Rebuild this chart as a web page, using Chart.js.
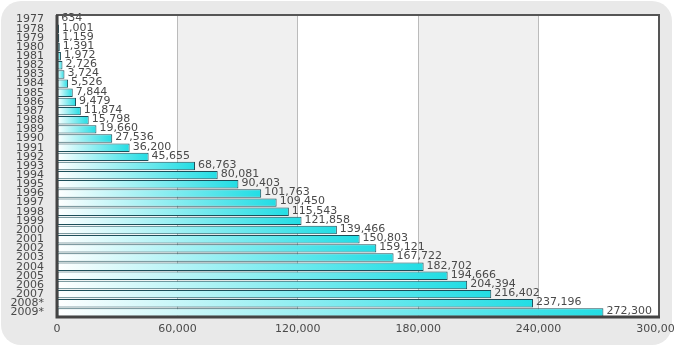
<!DOCTYPE html>
<html>
<head>
<meta charset="utf-8">
<script src="https://cdn.jsdelivr.net/npm/chart.js@4"></script>
<style>
  html, body { margin: 0; padding: 0; background: #fff; }
  #wrap { position: relative; width: 675px; height: 350px; overflow: hidden; }
  #panel { position: absolute; left: 1px; top: 1px; width: 671px; height: 344px;
           background: #e9e9e9; border-radius: 20px; }
  #chart { position: absolute; left: 0; top: 0; }
</style>
</head>
<body>
<div id="wrap">
  <div id="panel"></div>
  <canvas id="chart" width="675" height="350"></canvas>
</div>
<script>
var years = ["1977","1978","1979","1980","1981","1982","1983","1984","1985","1986","1987",
  "1988","1989","1990","1991","1992","1993","1994","1995","1996","1997","1998","1999",
  "2000","2001","2002","2003","2004","2005","2006","2007","2008*","2009*"];
var counts = [634, 1001, 1159, 1391, 1972, 2726, 3724, 5526, 7844, 9479, 11874,
  15798, 19660, 27536, 36200, 45655, 68763, 80081, 90403, 101763, 109450, 115543, 121858,
  139466, 150803, 159121, 167722, 182702, 194666, 204394, 216402, 237196, 272300];
var xTicks = [0, 60000, 120000, 180000, 240000, 300000];

var FONT = "'DejaVu Sans', Verdana, sans-serif";

// alternating white / grey bands behind the bars, value labels and frame on top
var bands = {
  id: "bands",
  beforeDraw: function(chart) {
    var a = chart.chartArea, x = chart.scales.x, ctx = chart.ctx;
    ctx.save();
    for (var i = 0; i < xTicks.length - 1; i++) {
      var l = x.getPixelForValue(xTicks[i]), r = x.getPixelForValue(xTicks[i + 1]);
      ctx.fillStyle = i % 2 ? "#f0f0f0" : "#ffffff";
      ctx.fillRect(l, a.top, r - l, a.bottom - a.top);
    }
    ctx.restore();
  },
  afterDatasetsDraw: function(chart) {
    var ctx = chart.ctx, meta = chart.getDatasetMeta(0), a = chart.chartArea;
    ctx.save();
    ctx.font = "11px " + FONT;
    ctx.fillStyle = "#4a4a4a";
    ctx.textBaseline = "middle";
    meta.data.forEach(function(bar, i) {
      ctx.fillText(counts[i].toLocaleString("en-US"), bar.x + 3, bar.y - 1);
    });
    ctx.strokeStyle = "#555";
    ctx.lineWidth = 2;
    ctx.strokeRect(a.left, a.top, a.right - a.left, a.bottom - a.top);
    ctx.lineWidth = 3;
    ctx.strokeStyle = "#444";
    ctx.beginPath();
    ctx.moveTo(a.left, a.top);
    ctx.lineTo(a.left, a.bottom);
    ctx.lineTo(a.right + 1, a.bottom);
    ctx.stroke();
    ctx.restore();
  }
};

new Chart(document.getElementById("chart"), {
  type: "bar",
  data: {
    labels: years,
    datasets: [{
      data: counts,
      backgroundColor: function(c) {
        var chart = c.chart, a = chart.chartArea;
        if (!a || c.raw == null) return "#2ee0e6";
        var x0 = a.left, x1 = chart.scales.x.getPixelForValue(c.raw);
        if (x1 - x0 < 2) return "#2ee0e6";
        var g = chart.ctx.createLinearGradient(x0, 0, x1, 0);
        g.addColorStop(0, "#ffffff");
        g.addColorStop(1, "#22dde4");
        return g;
      },
      borderColor: "#1d4f5a",
      borderWidth: 1,
      borderSkipped: false,
      barPercentage: 0.92,
      categoryPercentage: 1
    }]
  },
  options: {
    indexAxis: "y",
    responsive: false,
    animation: false,
    layout: { padding: { top: 15, right: 16, left: 0, bottom: 0 } },
    scales: {
      x: {
        min: 0, max: 300000,
        afterBuildTicks: function(s) { s.ticks = xTicks.map(function(v) { return { value: v }; }); },
        afterFit: function(s) { s.height = 33; s.paddingLeft = 0; s.paddingRight = 0; },
        ticks: {
          color: "#4a4a4a", font: { family: FONT, size: 11 }, padding: 6,
          maxRotation: 0,
          callback: function(v) { return v.toLocaleString("en-US"); }
        },
        grid: { color: "#bbbbbb", drawTicks: false, lineWidth: 1 },
        border: { display: false }
      },
      y: {
        afterFit: function(s) { s.width = 57; },
        ticks: { color: "#4a4a4a", font: { family: FONT, size: 11 }, autoSkip: false, padding: 5 },
        grid: { display: false },
        border: { display: false }
      }
    },
    plugins: { legend: { display: false }, tooltip: { enabled: false } }
  },
  plugins: [bands]
});
</script>
</body>
</html>
